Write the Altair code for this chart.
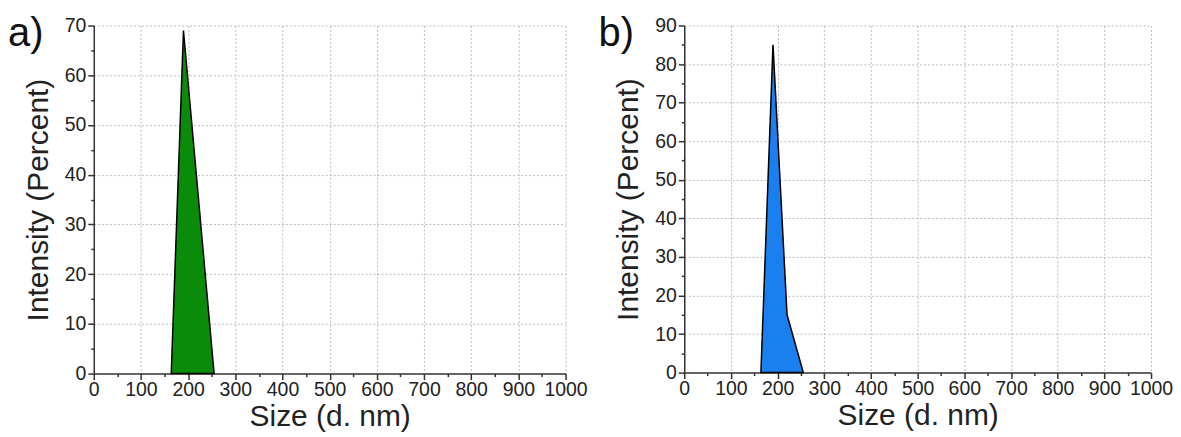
import altair as alt
import pandas as pd

# Data
size_nm = [164.2, 190.1, 220.2, 255.0]
intensity_a = [0, 69, 37, 0]
intensity_b = [0, 85, 15, 0]

x_ticks = list(range(0, 1001, 50))
y_ticks_a = list(range(0, 71, 5))
y_ticks_b = list(range(0, 91, 5))

FONT = "Liberation Sans"
TXT = "#222222"


def panel(values, ymax, yticks, color, label, width, height):
    df = pd.DataFrame({"size": size_nm, "intensity": values})
    x_axis = alt.Axis(
        values=x_ticks,
        format="d",
        labelExpr="datum.value % 100 === 0 ? datum.label : ''",
        tickSize={"condition": {"test": "datum.value % 100 !== 0", "value": 3}, "value": 6},
        gridOpacity={"condition": {"test": "datum.value % 100 !== 0 || datum.value === 0", "value": 0}, "value": 1},
        grid=True,
        gridDash=[2, 2],
        gridColor="#bdbdbd",
        gridWidth=1,
        domainColor="#333333",
        domainWidth=1.5,
        tickColor="#333333",
        tickWidth=1.5,
        labelFont=FONT,
        labelFontSize=19.5,
        labelColor=TXT,
        labelPadding=1,
        labelFlush=False,
        labelOverlap=False,
        title="Size (d. nm)",
        titleFont=FONT,
        titleFontSize=30,
        titleFontWeight="normal",
        titleColor=TXT,
        titlePadding=3,
    )
    y_axis = alt.Axis(
        values=yticks,
        format="d",
        labelExpr="datum.value % 10 === 0 ? datum.label : ''",
        tickSize={"condition": {"test": "datum.value % 10 !== 0", "value": 3}, "value": 6},
        gridOpacity={"condition": {"test": "datum.value % 10 !== 0 || datum.value === 0", "value": 0}, "value": 1},
        grid=True,
        gridDash=[2, 2],
        gridColor="#bdbdbd",
        gridWidth=1,
        domainColor="#333333",
        domainWidth=1.5,
        tickColor="#333333",
        tickWidth=1.5,
        labelFont=FONT,
        labelFontSize=19.5,
        labelColor=TXT,
        labelPadding=2,
        labelFlush=False,
        labelOverlap=False,
        title="Intensity (Percent)",
        titleFont=FONT,
        titleFontSize=30,
        titleFontWeight="normal",
        titleColor=TXT,
        titlePadding=11,
    )
    area = alt.Chart(df).mark_area(
        color=color, stroke="black", strokeWidth=1.5, strokeJoin="miter", opacity=1
    ).encode(
        x=alt.X("size:Q", scale=alt.Scale(domain=[0, 1000], nice=False), axis=x_axis),
        y=alt.Y("intensity:Q", scale=alt.Scale(domain=[0, ymax], nice=False), axis=y_axis),
    )
    txt = alt.Chart(pd.DataFrame({"t": [label]})).mark_text(
        font=FONT, fontSize=40, align="left", baseline="alphabetic", color="#111111"
    ).encode(text="t:N", x=alt.value(-86), y=alt.value(21))
    return alt.layer(area, txt).properties(width=width, height=height)


pa = panel(intensity_a, 70, y_ticks_a, "#0a8c0a", "a)", 473, 349)
pb = panel(intensity_b, 90, y_ticks_b, "#1a80f0", "b)", 468, 348)

chart = alt.hconcat(
    pa, pb, spacing=119, bounds="flush",
    padding={"top": 6, "left": 0, "right": 0, "bottom": 0},
).configure(background="white").configure_view(stroke=None)

chart.save("out.html", embed_options={"renderer": "svg", "actions": False})
